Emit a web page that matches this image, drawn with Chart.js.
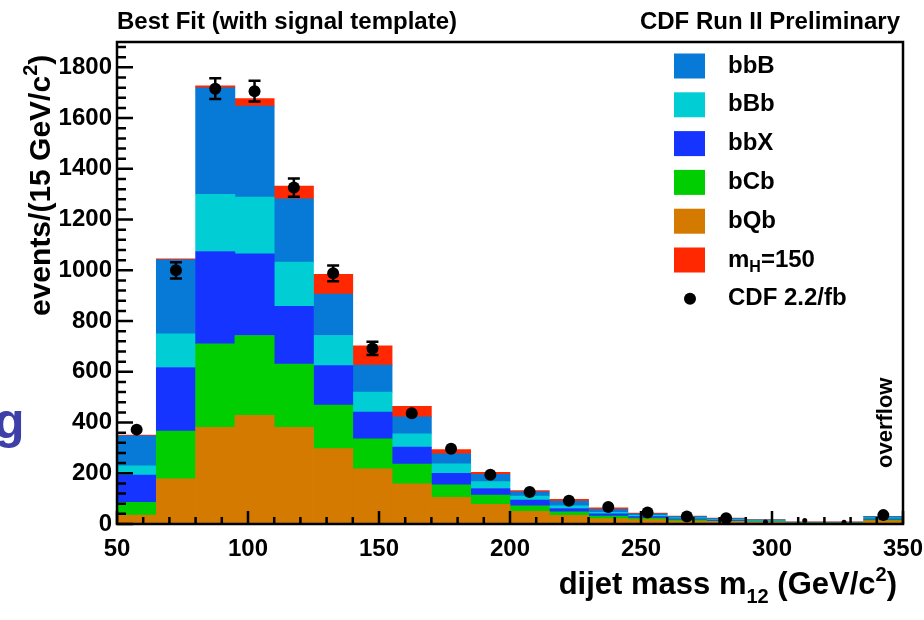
<!DOCTYPE html>
<html>
<head>
<meta charset="utf-8">
<script src="https://cdn.jsdelivr.net/npm/chart.js@4.4.1/dist/chart.umd.min.js"></script>
<style>
  html, body { margin: 0; padding: 0; background: #fff; }
  #plot { display: block; }
</style>
</head>
<body>
<canvas id="plot" width="924" height="620"></canvas>
<script>
// 15 GeV bins from 50 to 350, bin centres
const binCenters = [57.5, 72.5, 87.5, 102.5, 117.5, 132.5, 147.5, 162.5, 177.5, 192.5,
  207.5, 222.5, 237.5, 252.5, 267.5, 282.5, 297.5, 312.5, 327.5, 342.5]

// fitted templates, stacked bottom to top
const bQb = [35, 178, 381, 428, 381, 297, 217, 158, 105, 78, 50, 34, 21, 17, 12, 10, 8, 4, 4, 13]
const bCb = [50, 188, 329, 315, 249, 172, 119, 78, 49, 36, 22, 14, 10, 6, 4, 2, 2, 1, 1, 3]
const bbX = [108, 251, 364, 322, 228, 155, 105, 67, 46, 26, 22, 13, 9, 6, 4, 3, 2, 1, 1, 4]
const bBb = [36, 133, 226, 224, 174, 119, 79, 52, 37, 27, 16, 11, 6, 5, 4, 3, 2, 1, 1, 4]
const bbB = [119, 291, 419, 358, 250, 163, 106, 67, 40, 29, 17, 18, 12, 6, 5, 3, 2, 1, 1, 5]
const mH150 = [3, 4, 8, 30, 50, 78, 76, 42, 16, 8, 5, 7, 6, 3, 2, 2, 1, 1, 1, 1]

// data with statistical errors
const cdfData = [372, 1000, 1716, 1706, 1326, 988, 692, 437, 297, 194, 126, 92, 67, 45, 30, 23, 8, 14, 7, 35]
const cdfErr = [19, 32, 41, 41, 36, 31, 26, 21, 17, 14, 11, 10, 8, 7, 5, 5, 3, 4, 3, 6]

const xTicks = [50, 100, 150, 200, 250, 300, 350]
const yTicks = [0, 200, 400, 600, 800, 1000, 1200, 1400, 1600, 1800]

const FONT = '"Liberation Sans", Arial, Helvetica, sans-serif'

const templates = [
  { label: 'bQb', data: bQb, color: 'rgb(212, 122, 0)' },
  { label: 'bCb', data: bCb, color: 'rgb(0, 206, 0)' },
  { label: 'bbX', data: bbX, color: 'rgb(22, 52, 255)' },
  { label: 'bBb', data: bBb, color: 'rgb(0, 206, 212)' },
  { label: 'bbB', data: bbB, color: 'rgb(6, 122, 214)' },
  { label: 'mH=150', data: mH150, color: 'rgb(255, 40, 0)' }
]
const legendOrder = ['bbB', 'bBb', 'bbX', 'bCb', 'bQb', 'mH=150', 'CDF 2.2/fb']

// text with sub/superscript pieces: [[text, 'sub'|'sup'|null], ...]
function richText (ctx, parts, x, y, size, align) {
  const widths = parts.map(([t, mode]) => {
    ctx.font = `bold ${mode ? Math.round(size * 0.66) : size}px ${FONT}`
    return ctx.measureText(t).width
  })
  const total = widths.reduce((a, b) => a + b, 0)
  let cx = align === 'right' ? x - total : x
  ctx.textAlign = 'left'
  parts.forEach(([t, mode], i) => {
    ctx.font = `bold ${mode ? Math.round(size * 0.66) : size}px ${FONT}`
    const dy = mode === 'sub' ? size * 0.3 : mode === 'sup' ? -size * 0.42 : 0
    ctx.fillText(t, cx, y + dy)
    cx += widths[i]
  })
}

// ROOT style frame: box, inward ticks, error bars
const rootFrame = {
  id: 'rootFrame',
  afterDatasetsDraw (chart) {
    const { ctx, chartArea: { left, right, top, bottom }, scales: { x, y } } = chart
    ctx.save()
    ctx.strokeStyle = '#000'
    ctx.lineWidth = 2.5
    ctx.strokeRect(left, top, right - left, bottom - top)

    ctx.beginPath()
    for (let v = x.min; v <= x.max; v += 10) {
      const px = x.getPixelForValue(v)
      ctx.moveTo(px, bottom)
      ctx.lineTo(px, bottom - (v % 50 === 0 ? 13 : 7))
    }
    for (let v = y.min; v <= y.max; v += 40) {
      const py = y.getPixelForValue(v)
      ctx.moveTo(left, py)
      ctx.lineTo(left + (v % 200 === 0 ? 16 : 9), py)
    }
    ctx.stroke()

    ctx.lineWidth = 2.5
    ctx.beginPath()
    cdfData.forEach((v, i) => {
      const px = x.getPixelForValue(binCenters[i])
      const lo = y.getPixelForValue(v - cdfErr[i])
      const hi = y.getPixelForValue(v + cdfErr[i])
      if ((lo - hi) / 2 <= 6.5) return
      ctx.moveTo(px, lo); ctx.lineTo(px, hi)
      ctx.moveTo(px - 6, lo); ctx.lineTo(px + 6, lo)
      ctx.moveTo(px - 6, hi); ctx.lineTo(px + 6, hi)
    })
    ctx.stroke()
    ctx.restore()
  },
  afterDraw (chart) {
    const { ctx, chartArea: { left, right } } = chart
    ctx.save()
    ctx.fillStyle = '#000'
    ctx.textBaseline = 'alphabetic'

    ctx.font = `bold 24px ${FONT}`
    ctx.textAlign = 'left'
    ctx.fillText('Best Fit (with signal template)', left, 29)
    ctx.textAlign = 'right'
    ctx.fillText('CDF Run II Preliminary', right - 3, 29)

    // axis titles
    richText(ctx, [['dijet mass m'], ['12', 'sub'], [' (GeV/c'], ['2', 'sup'], [')']], right - 6, 594, 31, 'right')
    ctx.save()
    ctx.translate(50, 316)
    ctx.rotate(-Math.PI / 2)
    richText(ctx, [['events/(15 GeV/c'], ['2', 'sup'], [')']], 0, 0, 30, 'left')
    ctx.restore()

    ctx.save()
    ctx.translate(892, 468)
    ctx.rotate(-Math.PI / 2)
    ctx.font = `bold 22px ${FONT}`
    ctx.textAlign = 'left'
    ctx.fillText('overflow', 0, 0)
    ctx.restore()

    // legend
    ctx.textBaseline = 'middle'
    legendOrder.forEach((name, i) => {
      const rowY = 66 + i * 38.8
      const ds = chart.data.datasets.find(d => d.label === name)
      if (ds.type === 'scatter') {
        ctx.beginPath()
        ctx.arc(690, rowY, 6, 0, Math.PI * 2)
        ctx.fillStyle = '#000'
        ctx.fill()
      } else {
        ctx.fillStyle = ds.backgroundColor
        ctx.fillRect(674, rowY - 12.5, 31, 25)
      }
      ctx.fillStyle = '#000'
      if (name === 'mH=150') {
        richText(ctx, [['m'], ['H', 'sub'], ['=150']], 728, rowY, 24, 'left')
      } else {
        ctx.font = `bold 24px ${FONT}`
        ctx.textAlign = 'left'
        ctx.fillText(name, 728, rowY)
      }
    })

    // slide text peeking in at the left edge
    ctx.textBaseline = 'alphabetic'
    ctx.textAlign = 'left'
    ctx.fillStyle = 'rgb(60, 64, 168)'
    ctx.font = `bold 50px ${FONT}`
    ctx.fillText('g', -6, 438)
    ctx.restore()
  }
}

const datasets = templates.map(t => ({
  type: 'bar',
  label: t.label,
  data: binCenters.map((x, i) => ({ x, y: t.data[i] })),
  backgroundColor: t.color,
  borderWidth: 0,
  barPercentage: 1,
  categoryPercentage: 1,
  stack: 'fit',
  order: 2
}))
datasets.push({
  type: 'scatter',
  label: 'CDF 2.2/fb',
  data: binCenters.map((x, i) => ({ x, y: cdfData[i] })),
  backgroundColor: '#000',
  borderColor: '#000',
  pointRadius: ctx => (ctx.raw && ctx.raw.y < 20 ? 2.5 : 6),
  pointBorderWidth: 0,
  stack: 'data',
  order: 1
})

new Chart(document.getElementById('plot'), {
  type: 'bar',
  data: { datasets },
  options: {
    responsive: false,
    animation: false,
    devicePixelRatio: 1,
    layout: { padding: { top: 42, right: 21, left: 0, bottom: 0 } },
    plugins: {
      legend: { display: false },
      tooltip: { enabled: false }
    },
    scales: {
      x: {
        type: 'linear',
        stacked: true,
        offset: false,
        min: 50,
        max: 350,
        grid: { display: false, drawTicks: false, offset: false },
        border: { display: false },
        afterBuildTicks: scale => { scale.ticks = xTicks.map(value => ({ value })) },
        afterFit: scale => {
          scale.height = 96
          scale.paddingLeft = 0
          scale.paddingRight = 0
        },
        ticks: {
          padding: 11,
          color: '#000',
          maxRotation: 0,
          callback: v => String(v),
          font: { family: FONT, weight: 'bold', size: 24 }
        }
      },
      y: {
        stacked: true,
        min: 0,
        max: 1900,
        grid: { display: false, drawTicks: false },
        border: { display: false },
        afterBuildTicks: scale => { scale.ticks = yTicks.map(value => ({ value })) },
        afterFit: scale => { scale.width = 117 },
        ticks: {
          padding: 5,
          color: '#000',
          callback: v => String(v),
          font: { family: FONT, weight: 'bold', size: 24 }
        }
      }
    }
  },
  plugins: [rootFrame]
})
</script>
</body>
</html>
